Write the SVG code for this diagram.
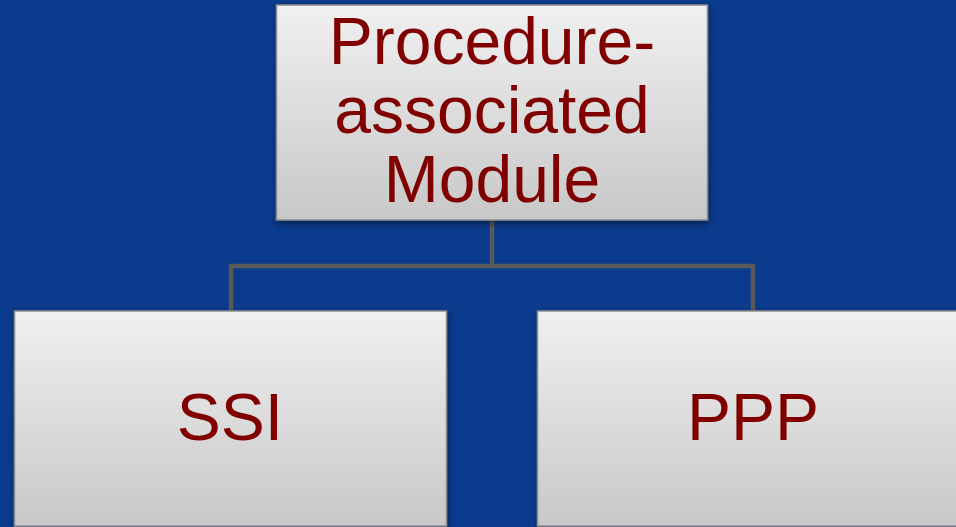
<svg xmlns="http://www.w3.org/2000/svg" width="956" height="527" viewBox="0 0 956 527">
<style>
.box{fill:url(#g);stroke:#8c8c8c;stroke-width:1.5}
.t{font-family:"Liberation Sans",Arial,sans-serif;font-size:66px;fill:#800000;text-anchor:middle}
.c{fill:none;stroke:#5a5a5a;stroke-width:4.5}
</style>
<defs>
<linearGradient id="g" x1="0" y1="0" x2="0" y2="1">
<stop offset="0" stop-color="#f0f0f0"/>
<stop offset="1" stop-color="#c8c8c8"/>
</linearGradient>
<filter id="sh" x="-5%" y="-5%" width="110%" height="115%">
<feDropShadow dx="1" dy="3" stdDeviation="3" flood-color="#000" flood-opacity="0.45"/>
</filter>
</defs>
<rect width="956" height="527" fill="#0b3b8c"/>
<g id="connectors">
<path class="c" d="M492 220V266M231 311V266H753V311"/>
</g>
<g id="node-pam">
<rect class="box" x="276.5" y="5" width="431" height="215" filter="url(#sh)"/>
<text class="t" x="492" y="64">Procedure-</text>
<text class="t" x="492" y="133">associated</text>
<text class="t" x="492" y="202">Module</text>
</g>
<g id="node-ssi">
<rect class="box" x="14.5" y="311" width="432" height="215" filter="url(#sh)"/>
<text class="t" x="230" y="440">SSI</text>
</g>
<g id="node-ppp">
<rect class="box" x="537.5" y="311" width="432" height="215" filter="url(#sh)"/>
<text class="t" x="753" y="440">PPP</text>
</g>
</svg>
